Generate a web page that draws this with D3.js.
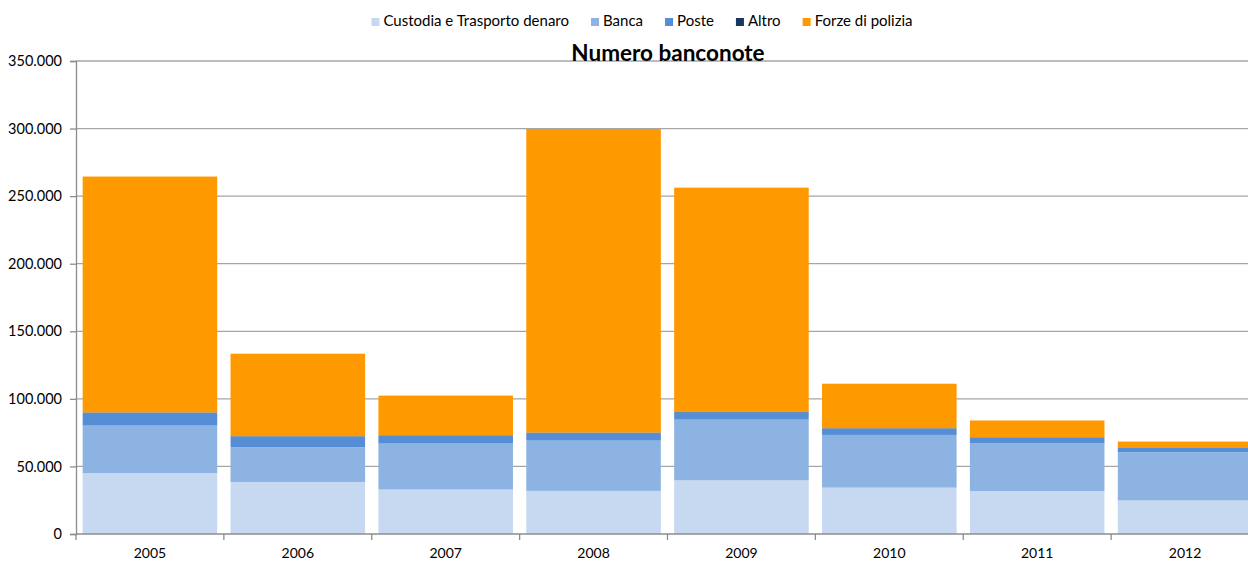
<!DOCTYPE html>
<html>
<head>
<meta charset="utf-8">
<script src="https://cdn.jsdelivr.net/npm/d3@7"></script>
<style>
  body { margin: 0; background: #fff; overflow: hidden; }
  text { font-family: Lato, "Open Sans", sans-serif; fill: #000; }
</style>
</head>
<body>
<svg class="chart"></svg>
<script>
var years = ["2005", "2006", "2007", "2008", "2009", "2010", "2011", "2012"];
var seriesNames = ["Custodia e Trasporto denaro", "Banca", "Poste", "Altro", "Forze di polizia"];
var custodia = [45100, 38500, 32900, 31900, 39700, 34300, 31800, 24800];
var banca = [35100, 25700, 34000, 37200, 44900, 39000, 35300, 35700];
var poste = [9600, 8000, 6000, 5800, 5500, 4800, 4300, 3400];
var altro = [200, 200, 200, 200, 200, 200, 200, 200];
var forze = [174500, 61000, 29300, 224600, 166000, 32900, 12400, 4300];
var colors = ["#c6d9f1", "#8db3e2", "#558ed5", "#17375e", "#ff9900"];
var yTicks = [0, 50000, 100000, 150000, 200000, 250000, 300000, 350000];

var frameWidth = 1248, frameHeight = 561;
var lmargin = 76, tmargin = 61, bmargin = 27;
// the plot area runs past the right edge of the picture
var width = 1183;
var height = frameHeight - tmargin - bmargin;

var svg = d3.select(".chart").attr("width", frameWidth).attr("height", frameHeight);

var table = years.map(function(y, i) {
  return { year: y, c: custodia[i], b: banca[i], p: poste[i], a: altro[i], f: forze[i] };
});
var stack = d3.stack().keys(["c", "b", "p", "a", "f"]);
var layers = stack(table);

var xScale = d3.scaleBand().domain(years).range([0, width]).paddingInner(0.09).paddingOuter(0.045);
var yScale = d3.scaleLinear().domain([0, 350000]).range([height, 0]);

var g = svg.append("g").attr("transform", "translate(" + lmargin + "," + tmargin + ")");

// gridlines
g.selectAll("line.grid").data(yTicks.slice(1)).enter().append("line")
  .attr("x1", 0).attr("x2", width)
  .attr("y1", function(d) { return yScale(d); })
  .attr("y2", function(d) { return yScale(d); })
  .attr("stroke", "#a6a6a6").attr("stroke-width", 1.3);

// bars
g.selectAll("g.layer").data(layers).enter().append("g")
  .attr("fill", function(d, i) { return colors[i]; })
  .selectAll("rect").data(function(d) { return d; })
  .enter().append("rect")
  .attr("x", function(d) { return xScale(d.data.year); })
  .attr("width", xScale.bandwidth())
  .attr("y", function(d) { return yScale(d[1]); })
  .attr("height", function(d) { return yScale(d[0]) - yScale(d[1]); });

// y axis
var yAxis = g.append("g").call(
  d3.axisLeft(yScale).tickValues(yTicks).tickSize(6).tickPadding(8)
    .tickFormat(function(d) { return d === 0 ? "0" : d3.format(",")(d).replace(/,/g, "."); })
);
yAxis.selectAll("text").style("font-size", "14.5px").attr("fill", "#000");
yAxis.selectAll("line,path").attr("stroke", "#8c8c8c").attr("stroke-width", 1.3);

// x axis
var xLine = d3.scalePoint().domain(d3.range(years.length + 1)).range([0, width]);
var xAxisG = g.append("g").attr("transform", "translate(0," + height + ")");
xAxisG.append("line").attr("x1", 0).attr("x2", width).attr("stroke", "#8c8c8c").attr("stroke-width", 1.3);
xAxisG.selectAll("line.tick").data(d3.range(years.length + 1)).enter().append("line")
  .attr("x1", function(d) { return xLine(d); }).attr("x2", function(d) { return xLine(d); })
  .attr("y1", 0).attr("y2", 6).attr("stroke", "#8c8c8c").attr("stroke-width", 1.3);
xAxisG.selectAll("text").data(years).enter().append("text")
  .attr("x", function(d) { return xScale(d) + xScale.bandwidth() / 2; })
  .attr("y", 24)
  .style("text-anchor", "middle").style("font-size", "14px")
  .text(function(d) { return d; });

// title
svg.append("text")
  .attr("x", 668).attr("y", 61)
  .style("text-anchor", "middle").style("font-size", "22.5px").style("font-weight", "bold")
  .text("Numero banconote");

// legend
var legend = svg.append("g");
var lx = 0;
seriesNames.forEach(function(name, i) {
  var item = legend.append("g").attr("transform", "translate(" + lx + ",0)");
  item.append("rect").attr("x", 0).attr("y", -8).attr("width", 8).attr("height", 8).attr("fill", colors[i]);
  var t = item.append("text").attr("x", 12).attr("y", 0).style("font-size", "15px").text(name);
  lx += 12 + t.node().getComputedTextLength() + 22;
});
var legendWidth = lx - 22;
legend.attr("transform", "translate(" + (642 - legendWidth / 2) + ",26)");
</script>
</body>
</html>
